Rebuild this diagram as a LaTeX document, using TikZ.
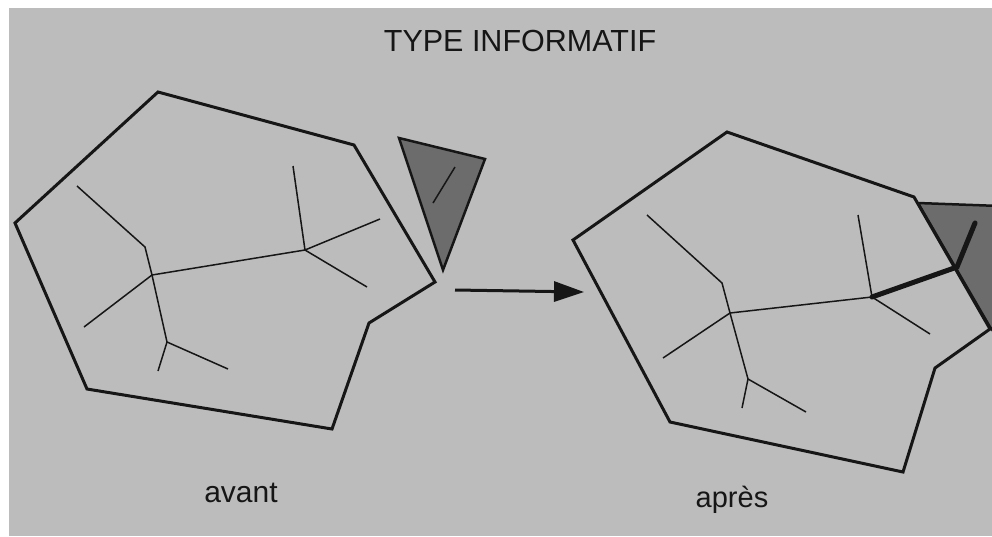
\documentclass[tikz,border=0pt]{standalone}
\usepackage{fontspec}
\setmainfont{Liberation Sans}
\usetikzlibrary{arrows.meta}
\definecolor{paper}{RGB}{188,188,188}
\definecolor{shade}{RGB}{108,108,108}
\definecolor{ink}{RGB}{22,22,22}
\tikzset{
  outline/.style={draw=ink, line width=3pt, line join=miter},
  branch/.style={draw=ink, line width=1.5pt},
  heavy/.style={draw=ink, line width=5pt, line cap=round},
  piece/.style={draw=ink, fill=shade, line width=2.5pt, line join=miter},
  label/.style={text=ink, font=\fontsize{30}{34}\selectfont, inner sep=0pt, anchor=base},
  flow/.style={draw=ink, line width=3pt, -{Triangle[length=30pt,width=20pt]}}
}
\begin{document}
\begin{tikzpicture}[x=1pt,y=-1pt]
\useasboundingbox (0,0) rectangle (992,536);
\fill[white] (0,0) rectangle (992,536);
\fill[paper] (9,8) rectangle (992,536);
\begin{scope}
\clip (9,8) rectangle (992,536);
% title
\node[label, font=\fontsize{30.5}{34}\selectfont] (title) at (520,51) {TYPE INFORMATIF};
% ---------- left: avant ----------
\draw[outline] (158,92) -- (354,145) -- (435,282) -- (369,323) -- (332,429) -- (87,389) -- (15,223) -- cycle;
\coordinate (la) at (152,275);
\coordinate (lk) at (145,247);
\coordinate (l1) at (77,186);
\coordinate (lb) at (305,250);
\coordinate (lb1) at (293,166);
\coordinate (lb2) at (380,219);
\coordinate (lb3) at (367,287);
\coordinate (l2) at (84,327);
\coordinate (lc) at (167,342);
\coordinate (lc1) at (158,371);
\coordinate (lc2) at (228,369);
\draw[branch] (l1) -- (lk) -- (la);
\draw[branch] (la) -- (lb);
\draw[branch] (lb) -- (lb1);
\draw[branch] (lb) -- (lb2);
\draw[branch] (lb) -- (lb3);
\draw[branch] (la) -- (l2);
\draw[branch] (la) -- (lc);
\draw[branch] (lc) -- (lc1);
\draw[branch] (lc) -- (lc2);
% loose triangle
\draw[piece] (399,138) -- (485,159) -- (443,270) -- cycle;
\coordinate (lt1) at (433,203);
\coordinate (lt2) at (455,167);
\draw[branch] (lt1) -- (lt2);
% arrow
\coordinate (arrS) at (455,290);
\coordinate (arrE) at (584,292);
\draw[flow] (arrS) -- (arrE);
% ---------- right: apres ----------
\draw[piece] (918,203) -- (1000,206) -- (1000,340) -- (990,327) -- cycle;
\draw[outline] (727,132) -- (914,197) -- (990,329) -- (935,368) -- (903,472) -- (670,422) -- (573,240) -- cycle;
\coordinate (ra) at (730,313);
\coordinate (rk) at (722,283);
\coordinate (r1) at (647,215);
\coordinate (rb) at (872,297);
\coordinate (rb1) at (858,215);
\coordinate (rb3) at (930,334);
\coordinate (rd) at (957,267);
\coordinate (rd1) at (975,223);
\coordinate (r2) at (663,358);
\coordinate (rc) at (748,379);
\coordinate (rc1) at (742,408);
\coordinate (rc2) at (806,412);
\draw[branch] (r1) -- (rk) -- (ra);
\draw[branch] (ra) -- (rb);
\draw[branch] (rb) -- (rb1);
\draw[branch] (rb) -- (rb3);
\draw[heavy] (rb) -- (rd) -- (rd1);
\draw[branch] (ra) -- (r2);
\draw[branch] (ra) -- (rc);
\draw[branch] (rc) -- (rc1);
\draw[branch] (rc) -- (rc2);
% labels
\node[label] (avant) at (241,502) {avant};
\node[label, font=\fontsize{29}{33}\selectfont] (apres) at (732,507) {après};
\end{scope}
\end{tikzpicture}
\end{document}
